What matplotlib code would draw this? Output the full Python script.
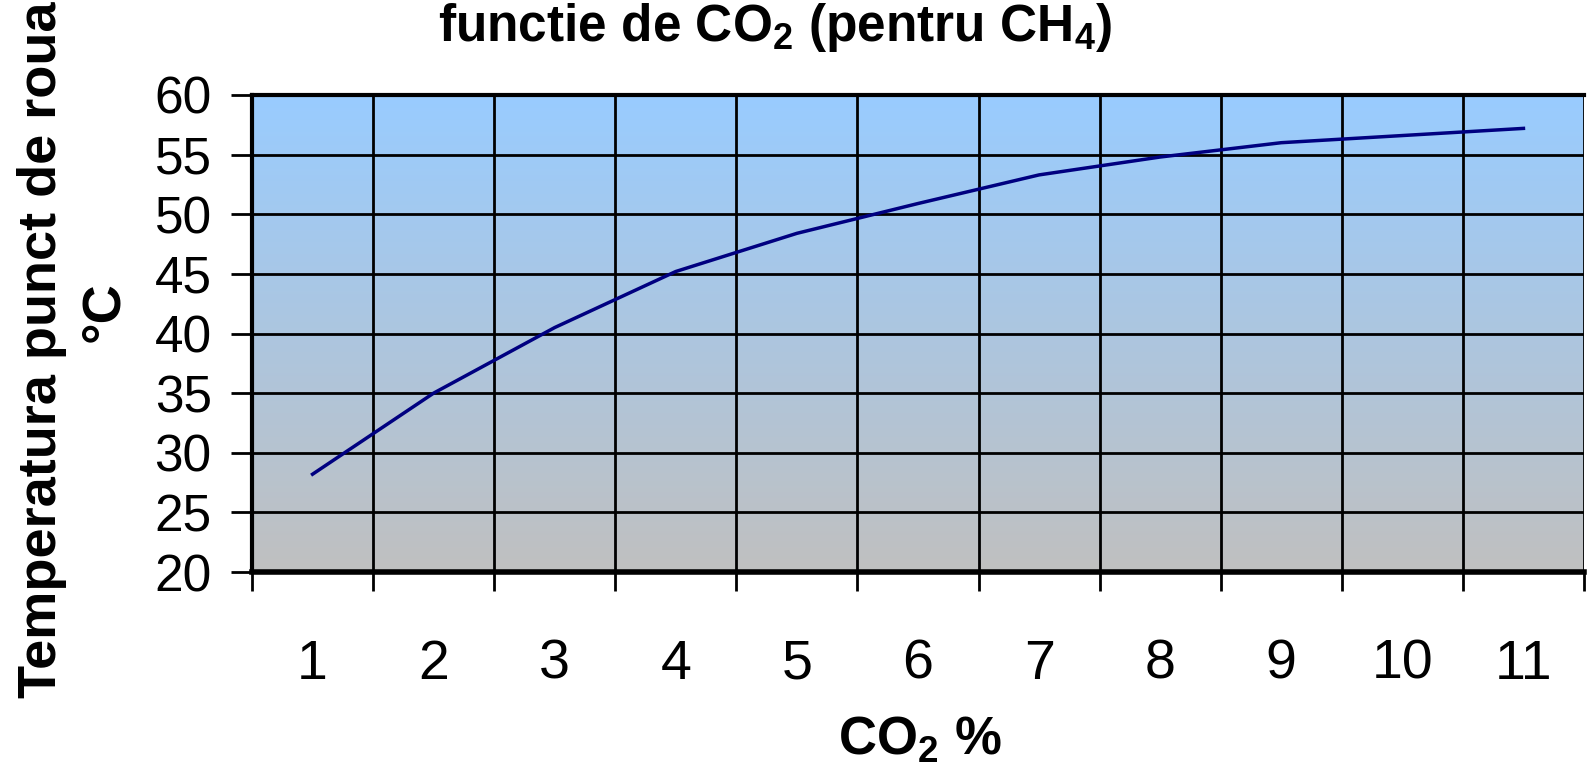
import numpy as np
import matplotlib
matplotlib.use("Agg")
import matplotlib.pyplot as plt
from matplotlib.colors import LinearSegmentedColormap

plt.rcParams['font.family'] = ['Liberation Sans', 'DejaVu Sans']
plt.rcParams['mathtext.fontset'] = 'custom'
plt.rcParams['mathtext.rm'] = 'Liberation Sans'
plt.rcParams['mathtext.bf'] = 'Liberation Sans:bold'

# data
co2 = [1, 2, 3, 4, 5, 6, 7, 8, 9, 10, 11]
temp = [28.2, 35.0, 40.5, 45.2, 48.4, 50.9, 53.3, 54.8, 56.0, 56.6, 57.2]
yticks = [20, 25, 30, 35, 40, 45, 50, 55, 60]

fig = plt.figure(figsize=(15.87, 7.72), dpi=100)
ax = fig.add_axes([252/1587, 200/772, (1584-252)/1587, (572-95)/772])

# gradient background (blue top -> gray bottom)
cmap = LinearSegmentedColormap.from_list("bg", ["#C0C0C0", "#99CCFF"])
grad = np.linspace(0, 1, 256).reshape(-1, 1)
ax.imshow(grad, cmap=cmap, origin='lower', aspect='auto',
          extent=[0.5, 11.5, 20, 60], zorder=0)

ax.plot(co2, temp, color='#000080', lw=2.5, zorder=3)

ax.set_xlim(0.5, 11.5)
ax.set_ylim(20, 60)
ax.set_yticks(yticks)
ax.set_xticks(co2)
ax.set_xticks(np.arange(0.5, 12, 1), minor=True)

ax.grid(True, which='major', axis='y', color='black', lw=2, zorder=1)
ax.grid(True, which='minor', axis='x', color='black', lw=2, zorder=1)

ax.tick_params(axis='y', direction='out', length=15, width=2, pad=14, labelsize=37)
ax.tick_params(axis='x', which='major', length=0, pad=48, labelsize=40)
ax.tick_params(axis='x', which='minor', direction='out', length=14, width=2)

for s in ['left', 'top']:
    ax.spines[s].set_linewidth(3)
ax.spines['bottom'].set_linewidth(4)
ax.spines['right'].set_visible(False)

fig.text(775/1587, 1 - 1/772, r'functie de CO$_\mathbf{2}$ (pentru CH$_\mathbf{4}$)',
         ha='center', va='top', fontsize=37, fontweight='bold')
fig.text(920/1587, 1 - 740/772, r'CO$_\mathbf{2}$ %',
         ha='center', va='center', fontsize=38, fontweight='bold')
fig.text(42/1587, 1 - 2/772, 'Temperatura punct de roua',
         ha='center', va='top', rotation=90, fontsize=39, fontweight='bold')
fig.text(104/1587, 1 - 312/772, '°C',
         ha='center', va='center', rotation=90, fontsize=39, fontweight='bold')

fig.savefig('out.png', dpi=100)
